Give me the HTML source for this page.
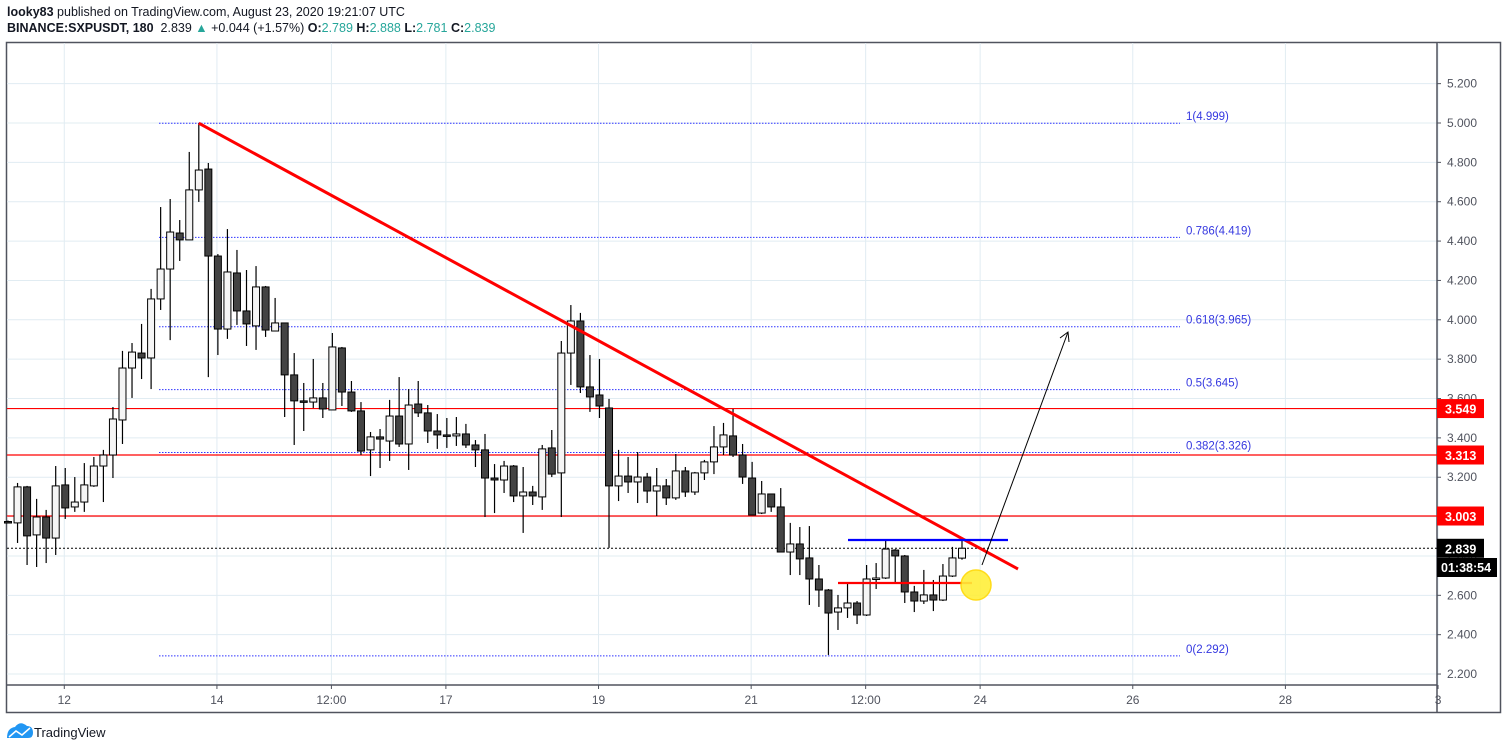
<!DOCTYPE html>
<html><head><meta charset="utf-8">
<style>
body{margin:0;background:#fff;width:1508px;height:750px;overflow:hidden;font-family:"Liberation Sans",sans-serif;}
#hdr{position:absolute;left:7px;top:4px;font-size:12.5px;color:#131722;line-height:16px;}
#hdr b{font-weight:bold}
.g{color:#26a69a}
svg{position:absolute;left:0;top:0}
</style></head><body>
<div id="hdr">
<div><b>looky83</b> published on TradingView.com, August 23, 2020 19:21:07 UTC</div>
<div><b>BINANCE:SXPUSDT, 180</b>&nbsp; 2.839 <span class="g">▲</span> +0.044 (+1.57%) <b>O:</b><span class="g">2.789</span> <b>H:</b><span class="g">2.888</span> <b>L:</b><span class="g">2.781</span> <b>C:</b><span class="g">2.839</span></div>
</div>
<svg id="chart" width="1508" height="750" xmlns="http://www.w3.org/2000/svg"></svg>
<script>
const opens=[2.975,2.968,3.151,2.907,2.998,2.891,3.161,3.049,3.074,3.156,3.257,3.313,3.491,3.755,3.831,3.806,4.106,4.258,4.441,4.406,4.660,4.766,4.324,3.953,4.238,4.045,3.969,4.167,3.943,3.984,3.720,3.588,3.582,3.603,3.542,3.857,3.633,3.537,3.339,3.405,3.384,3.511,3.369,3.572,3.527,3.435,3.415,3.410,3.420,3.364,3.339,3.196,3.186,3.257,3.105,3.125,3.100,3.349,3.222,3.831,3.994,3.659,3.618,3.552,3.156,3.206,3.176,3.201,3.130,3.156,3.095,3.232,3.125,3.222,3.278,3.354,3.410,3.313,3.196,3.018,3.115,3.049,2.820,2.861,2.790,2.683,2.627,2.515,2.536,2.561,2.500,2.683,2.688,2.830,2.800,2.617,2.571,2.602,2.576,2.698,2.789];
const highs=[2.980,3.171,3.156,3.090,3.034,3.257,3.247,3.201,3.272,3.303,3.339,3.557,3.842,3.882,3.979,4.157,4.573,4.614,4.507,4.853,4.999,4.797,4.334,4.461,4.355,4.253,4.273,4.172,4.111,3.984,3.831,3.679,3.801,3.679,3.933,3.862,3.689,3.582,3.430,3.445,3.593,3.709,3.648,3.689,3.567,3.521,3.501,3.506,3.471,3.389,3.420,3.267,3.283,3.262,3.252,3.156,3.364,3.440,3.892,4.075,4.035,3.821,3.801,3.598,3.339,3.303,3.328,3.222,3.247,3.191,3.318,3.252,3.227,3.288,3.460,3.476,3.547,3.369,3.278,3.181,3.115,3.145,2.968,2.947,2.952,2.754,2.632,2.602,2.658,2.571,2.754,2.764,2.876,2.835,2.805,2.648,2.729,2.678,2.759,2.846,2.888];
const lows=[2.965,2.866,2.754,2.744,2.764,2.805,2.988,3.024,3.024,3.151,3.074,3.196,3.369,3.603,3.699,3.648,4.050,3.897,4.299,4.406,4.599,3.709,3.821,3.903,3.974,3.867,3.847,3.913,3.943,3.506,3.364,3.435,3.552,3.501,3.542,3.562,3.532,3.313,3.206,3.247,3.283,3.354,3.237,3.506,3.374,3.344,3.349,3.359,3.349,3.252,2.998,3.018,3.120,3.074,2.917,3.059,3.034,3.201,2.998,3.669,3.628,3.532,3.501,2.841,3.079,3.120,3.069,3.069,3.003,3.059,3.085,3.100,3.110,3.186,3.216,3.313,3.303,3.166,3.008,3.013,3.024,2.820,2.703,2.703,2.551,2.541,2.297,2.424,2.485,2.454,2.495,2.632,2.683,2.663,2.561,2.515,2.556,2.520,2.571,2.693,2.781];
const closes=[2.970,3.151,2.902,2.998,2.891,3.156,3.044,3.074,3.161,3.257,3.313,3.496,3.755,3.836,3.806,4.106,4.258,4.446,4.406,4.660,4.761,4.324,3.953,4.243,4.045,3.979,4.167,3.948,3.984,3.720,3.588,3.582,3.603,3.547,3.862,3.633,3.537,3.333,3.405,3.394,3.511,3.369,3.567,3.527,3.435,3.415,3.410,3.420,3.364,3.339,3.196,3.186,3.257,3.105,3.125,3.105,3.344,3.216,3.831,3.994,3.659,3.608,3.562,3.156,3.206,3.176,3.201,3.130,3.156,3.095,3.232,3.125,3.222,3.278,3.354,3.415,3.313,3.201,3.008,3.115,3.049,2.820,2.861,2.785,2.683,2.627,2.510,2.536,2.561,2.500,2.683,2.688,2.835,2.800,2.617,2.571,2.602,2.576,2.698,2.790,2.839];
const priceTicks=[5.2,5.0,4.8,4.6,4.4,4.2,4.0,3.8,3.6,3.4,3.2,3.0,2.8,2.6,2.4,2.2];
const timeLabels=["12","14","12:00","17","19","21","12:00","24","26","28","3"];
const timeIdx=[5.9,21.9,33.9,45.9,61.9,77.9,89.9,101.9,117.9,133.9,149.9];
const fibLevels=[1,0.786,0.618,0.5,0.382,0];
const fibPrices=[4.999,4.419,3.965,3.645,3.326,2.292];
const hLevels=[3.549,3.313,3.003];
const lastPrice=2.839;

const NS="http://www.w3.org/2000/svg";
const svg=document.getElementById('chart');
const L=7,R=1437,T=43,B=685;
const y=p=>123+(5-p)*196.8;
const x=i=>8+i*9.54;
function el(tag,attrs,parent){const e=document.createElementNS(NS,tag);for(const k in attrs)e.setAttribute(k,attrs[k]);(parent||svg).appendChild(e);return e;}
// frame
let f=el('rect',{x:6.5,y:42.5,width:1494,height:670,fill:'none',stroke:'#50535e','stroke-width':1.5});

// grid
priceTicks.forEach(p=>{const g=el('line',{x1:L,x2:R,y1:y(p),y2:y(p),stroke:'#e1ecf2'});
});
timeIdx.forEach((t,k)=>{const g=el('line',{x1:x(t),x2:x(t),y1:T,y2:B,stroke:'#e1ecf2'});

const tk=el('line',{x1:x(t),x2:x(t),y1:B,y2:B+4,stroke:'#50535e'});

const tx=el('text',{x:x(t),y:704,'text-anchor':'middle','font-size':12,fill:'#50535e'});tx.textContent=timeLabels[k];
});
el('line',{x1:L,x2:R,y1:B,y2:B,stroke:'#50535e','stroke-width':1.5});
el('line',{x1:R,x2:R,y1:T,y2:713,stroke:'#50535e','stroke-width':1.5});
priceTicks.forEach(p=>{const tk=el('line',{x1:R,x2:R+4,y1:y(p),y2:y(p),stroke:'#50535e'});

const t=el('text',{x:R+10,y:y(p)+4,'font-size':12,fill:'#50535e'});t.textContent=p.toFixed(3);
});
// fib
fibPrices.forEach((p,k)=>{const l=el('line',{x1:159,x2:1180,y1:y(p),y2:y(p),stroke:'#2e33ff','stroke-dasharray':'1.5,1.5'});

const t=el('text',{x:1186,y:y(p)-3,'font-size':11.5,fill:'#3538e0'});t.textContent=fibLevels[k]+'('+p.toFixed(3)+')';
});
// horizontal lines
hLevels.forEach(p=>{const l=el('line',{x1:L,x2:R,y1:y(p),y2:y(p),stroke:'#ff0000','stroke-width':1.2});
});
let lp=el('line',{x1:L,x2:R,y1:y(lastPrice),y2:y(lastPrice),stroke:'#000','stroke-dasharray':'2,2'});

// candles
opens.forEach((o,i)=>{const c=closes[i],bull=c>=o,cx=x(i);
const g=el('g',{});
el('line',{x1:cx,x2:cx,y1:y(highs[i]),y2:y(lows[i]),stroke:'#000','stroke-width':1.2},g);
const top=y(Math.max(o,c)),h=Math.max(1.5,Math.abs(y(o)-y(c)));
el('rect',{x:cx-3.5,y:top,width:7,height:h,fill:bull?'#f5f5f5':'#434343',stroke:'#000','stroke-width':1},g);});
// drawings
let tl=el('line',{x1:x(20),y1:y(4.999),x2:1018,y2:569,stroke:'#ff0000','stroke-width':3});

let bl=el('line',{x1:848,x2:1008,y1:540,y2:540,stroke:'#0000ff','stroke-width':2.2});

let rl=el('line',{x1:838,x2:972,y1:583,y2:583,stroke:'#ff0000','stroke-width':2.2});

let ci=el('circle',{cx:976,cy:585,r:15,fill:'#ffef3a',stroke:'#ffd800','stroke-width':1.5,opacity:0.9});

let ar=el('g',{});
el('line',{x1:982,y1:565,x2:1068,y2:332,stroke:'#000','stroke-width':1},ar);
el('polyline',{points:'1060,338 1068,332 1069,342',fill:'none',stroke:'#000','stroke-width':1},ar);
// price labels
function plabel(p,bg,txt,name){const g=el('g',{});
el('rect',{x:R,y:y(p)-9.5,width:47,height:19,fill:bg},g);
const t=el('text',{x:R+8,y:y(p)+5,'font-size':12.5,'font-weight':'bold',fill:'#fff'},g);t.textContent=txt;}
hLevels.forEach(p=>plabel(p,'#ff0000',p.toFixed(3),'level-price-label'));
plabel(lastPrice,'#000',lastPrice.toFixed(3),'last-price-label');
let cd=el('g',{});
el('rect',{x:R,y:558,width:60,height:19,fill:'#000'},cd);
const ct=el('text',{x:R+4,y:572,'font-size':12.5,'font-weight':'bold',fill:'#fff'},cd);ct.textContent='01:38:54';
// logo
let lg=el('g',{});
el('path',{d:'M7 738 Q7 728 15 727 Q20 720 27 726 Q33 726 33 733 Q33 738 28 738 Z',fill:'#2196f3'},lg);
el('polyline',{points:'9,737 16,731 22,735 30,728',fill:'none',stroke:'#fff','stroke-width':1.5},lg);
const lt=el('text',{x:34,y:737,'font-size':13,fill:'#131722'},lg);lt.textContent='TradingView';
</script>
</body></html>
